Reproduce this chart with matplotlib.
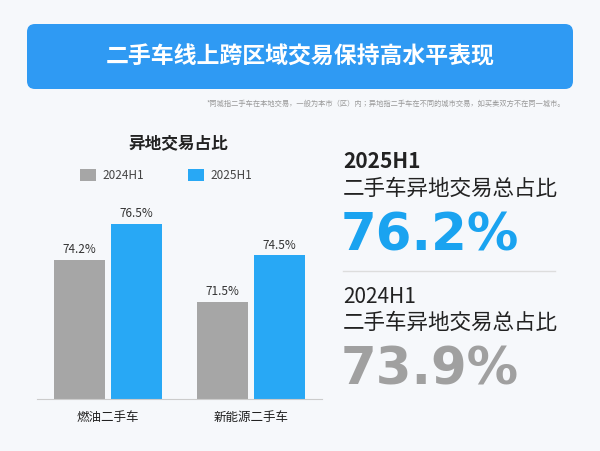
import matplotlib
matplotlib.use("Agg")
import matplotlib.pyplot as plt
from matplotlib.patches import FancyBboxPatch, Rectangle
from matplotlib import font_manager

categories = ["燃油二手车", "新能源二手车"]
series_names = ["2024H1", "2025H1"]
v2024 = [74.2, 71.5]
v2025 = [76.5, 74.5]
total_2025 = "76.2%"
total_2024 = "73.9%"

names = sorted({f.name for f in font_manager.fontManager.ttflist})
cjk = next((n for n in names if n == "Noto Sans CJK SC"), None) or \
      next((n for n in names if "Sans CJK" in n), "Noto Sans CJK SC")
plt.rcParams["font.family"] = "sans-serif"
plt.rcParams["font.sans-serif"] = [cjk, "DejaVu Sans"]
W, H = 600, 452
fig = plt.figure(figsize=(6, 4.52), dpi=100)
fig.patch.set_facecolor("#f6f8fb")
def fx(x): return x / W
def fy(y): return 1 - y / H

bg = fig.add_axes([0, 0, 1, 1]); bg.set_axis_off(); bg.set_xlim(0, W); bg.set_ylim(H, 0)
bg.add_patch(FancyBboxPatch((27, 25), 546, 65, boxstyle="round,pad=0,rounding_size=8", fc="#2f9af3", ec="none"))
bg.text(300, 57, "二手车线上跨区域交易保持高水平表现", color="white", fontsize=16.5, fontweight="bold", ha="center", va="center")
bg.text(565, 104, "*同城指二手车在本地交易，一般为本市（区）内；异地指二手车在不同的城市交易，如买卖双方不在同一城市。",
        color="#999999", fontsize=5.2, ha="right", va="center")
bg.text(178, 143, "异地交易占比", fontsize=12, fontweight="bold", ha="center", va="center", color="#222")
bg.add_patch(Rectangle((80, 170), 16, 12, fc="#a6a6a6"))
bg.text(102, 176, series_names[0], fontsize=8.5, va="center", color="#444")
bg.add_patch(Rectangle((188, 170), 16, 12, fc="#28a8f5"))
bg.text(210, 176, series_names[1], fontsize=8.5, va="center", color="#444")

bg.text(343, 162, "2025H1", fontsize=15, fontweight="bold", va="center", color="#222")
bg.text(343, 189, "二手车异地交易总占比", fontsize=15.5, va="center", color="#222")
bg.text(341, 237, total_2025, fontsize=37, fontweight="bold", va="center", color="#1aa3f0", family="DejaVu Sans")
bg.plot([343, 555], [272, 272], color="#dddddd", lw=1)
bg.text(343, 297, "2024H1", fontsize=15, va="center", color="#222")
bg.text(343, 323, "二手车异地交易总占比", fontsize=15.5, va="center", color="#222")
bg.text(341, 371, total_2024, fontsize=37, fontweight="bold", va="center", color="#a0a0a0", family="DejaVu Sans")

ax = fig.add_axes([fx(37), fy(400), fx(285), 200 / H])
ax.set_facecolor("none")
x = [0, 1]
w = 0.36
b1 = ax.bar([i - 0.2 for i in x], v2024, w, color="#a6a6a6")
b2 = ax.bar([i + 0.2 for i in x], v2025, w, color="#28a8f5")
for bars, vals in ((b1, v2024), (b2, v2025)):
    for r, v in zip(bars, vals):
        ax.text(r.get_x() + r.get_width() / 2, v + 0.3, f"{v}%", ha="center", va="bottom", fontsize=8.5, color="#333")
ax.set_xlim(-0.5, 1.5)
ax.set_ylim(65.3, 78.1)
ax.set_xticks(x)
ax.set_xticklabels(categories, fontsize=9, color="#222")
ax.tick_params(length=0, pad=8)
ax.set_yticks([])
for s in ["top", "right", "left"]:
    ax.spines[s].set_visible(False)
ax.spines["bottom"].set_color("#cccccc")
fig.savefig("out.png", dpi=100, facecolor=fig.get_facecolor())
